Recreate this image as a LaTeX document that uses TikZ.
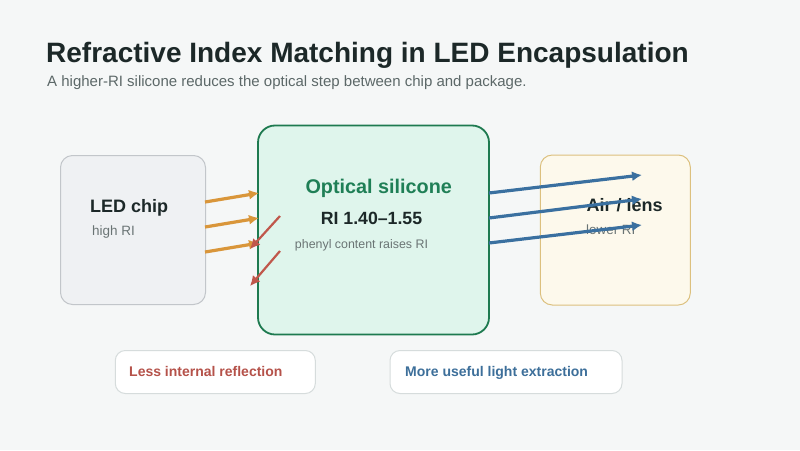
\documentclass[tikz,border=0pt]{standalone}
\usepackage{fontspec}
\setmainfont{Liberation Sans}
\usetikzlibrary{arrows.meta}
\definecolor{bg}{HTML}{F5F7F7}
\definecolor{titlec}{HTML}{1C2828}
\definecolor{subc}{HTML}{5C6868}
\definecolor{chipfill}{HTML}{EFF1F3}
\definecolor{chipdraw}{HTML}{C2C6CA}
\definecolor{silfill}{HTML}{DFF5EC}
\definecolor{sildraw}{HTML}{1E7A50}
\definecolor{siltext}{HTML}{1F7F56}
\definecolor{airfill}{HTML}{FDF9EC}
\definecolor{airdraw}{HTML}{DCC07E}
\definecolor{noteborder}{HTML}{D6DCDC}
\definecolor{orangec}{HTML}{D9963A}
\definecolor{redc}{HTML}{C0574B}
\definecolor{bluec}{HTML}{3A70A0}
\definecolor{redtext}{HTML}{B5524A}
\definecolor{bluetext}{HTML}{3D6F9A}
\definecolor{graytext}{HTML}{6A7474}
\tikzset{
  panel/.style={rounded corners=12pt, inner sep=0pt, line width=1pt},
  note/.style={rounded corners=10pt, inner sep=0pt, line width=1pt, draw=noteborder, fill=white, minimum height=43pt},
  lbl/.style={anchor=base west, inner sep=0pt},
  ray/.style={line width=3.2pt, -{Latex[length=10pt,width=10pt]}},
}
\begin{document}
\begin{tikzpicture}[x=1pt,y=-1pt]
\fill[bg] (0,0) rectangle (800,450);
\useasboundingbox (0,0) rectangle (800,450);

% title
\node[lbl, text=titlec] (title) at (46,62) {\fontsize{28}{33}\selectfont\bfseries Refractive Index Matching in LED Encapsulation};
\node[lbl, text=subc] (sub) at (47,86) {\fontsize{15}{18}\selectfont A higher-RI silicone reduces the optical step between chip and package.};

% panels
\node[panel, draw=chipdraw, fill=chipfill, minimum width=145pt, minimum height=149pt] (chip) at (133,230) {};
\node[panel, draw=sildraw, fill=silfill, line width=1.8pt, rounded corners=17pt, minimum width=231pt, minimum height=209pt] (sil) at (373.5,230) {};
\node[panel, draw=airdraw, fill=airfill, minimum width=150pt, minimum height=150pt] (air) at (615.3,230) {};

% panel texts
\node[lbl, text=titlec] (chipt) at (90,212) {\fontsize{18}{21}\selectfont\bfseries LED chip};
\node[lbl, text=graytext] (chips) at (92,235) {\fontsize{13.5}{16}\selectfont high RI};
\node[anchor=base, inner sep=0pt, text=siltext] (silt) at (378.7,193.3) {\fontsize{19.8}{23}\selectfont\bfseries Optical silicone};
\node[anchor=base, inner sep=0pt, text=titlec] (silri) at (371.5,224) {\fontsize{17.7}{21}\selectfont\bfseries RI 1.40–1.55};
\node[anchor=base, inner sep=0pt, text=graytext] (sils) at (361.5,248.3) {\fontsize{12.4}{15}\selectfont phenyl content raises RI};

% notes
\node[note, minimum width=200pt] (n1) at (215.3,372) {};
\node[note, minimum width=232pt] (n2) at (506,372) {};
\node[lbl, text=redtext] (n1t) at (129,376) {\fontsize{14}{17}\selectfont\bfseries Less internal reflection};
\node[lbl, text=bluetext] (n2t) at (405,376) {\fontsize{14}{17}\selectfont\bfseries More useful light extraction};

% orange rays chip -> silicone
\coordinate (o1s) at (205,202); \coordinate (o1e) at (259,193);
\coordinate (o2s) at (205,227); \coordinate (o2e) at (259,218);
\coordinate (o3s) at (205,252); \coordinate (o3e) at (259,243);
\draw[ray, orangec] (o1s) -- (o1e);
\draw[ray, orangec] (o2s) -- (o2e);
\draw[ray, orangec] (o3s) -- (o3e);

% red reflections
\coordinate (r1s) at (280,216); \coordinate (r1e) at (250,249);
\coordinate (r2s) at (280,251); \coordinate (r2e) at (250,286);
\draw[ray, redc, line width=2.2pt] (r1s) -- (r1e);
\draw[ray, redc, line width=2.2pt] (r2s) -- (r2e);

% air panel text, then blue rays drawn over it
\node[lbl, text=titlec] (airt) at (586.5,211.7) {\fontsize{18}{21}\selectfont\bfseries Air / lens};
\node[lbl, text=graytext] (airs) at (586,234.3) {\fontsize{13.4}{16}\selectfont lower RI};
\coordinate (b1s) at (489,193); \coordinate (b1e) at (642,175);
\coordinate (b2s) at (489,218); \coordinate (b2e) at (642,199);
\coordinate (b3s) at (489,243); \coordinate (b3e) at (642,225);
\draw[ray, bluec] (b1s) -- (b1e);
\draw[ray, bluec] (b2s) -- (b2e);
\draw[ray, bluec] (b3s) -- (b3e);
\end{tikzpicture}
\end{document}
